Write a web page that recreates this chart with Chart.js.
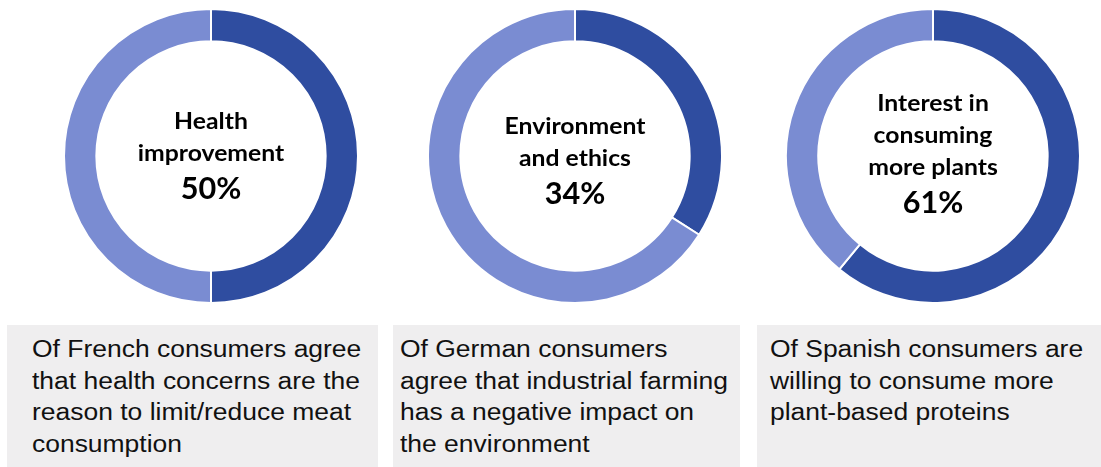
<!DOCTYPE html>
<html lang="en">
<head>
    <meta charset="UTF-8">
    <title>Consumer motivations</title>
    <script src="https://cdn.jsdelivr.net/npm/chart.js"></script>
    <style>
        body {
            margin: 0;
            width: 1101px;
            height: 467px;
            background: #ffffff;
            position: relative;
            overflow: hidden;
            font-family: "Liberation Sans", Arial, sans-serif;
        }
        .donut {
            position: absolute;
            top: 8px;
            width: 296px;
            height: 296px;
        }
        .centre {
            position: absolute;
            width: 296px;
            text-align: center;
            font-family: Lato, "Open Sans", sans-serif;
            font-weight: 700;
            color: #000;
        }
        .centre .lbl {
            font-size: 22.5px;
            line-height: 32px;
            transform: scaleX(1.1);
        }
        .centre .pct {
            font-size: 30px;
            line-height: 36px;
            transform: scaleX(1.02);
        }
        .box {
            position: absolute;
            top: 325px;
            height: 142px;
            background: #efeeef;
        }
        .box p {
            margin: 0;
            position: absolute;
            top: 9px;
            font-size: 23px;
            line-height: 31.7px;
            color: #111;
            transform: scaleX(1.15);
            transform-origin: left top;
            white-space: nowrap;
        }
    </style>
</head>
<body>
    <div id="root"></div>

    <script>
        // values
        const labels = [['Health', 'improvement'], ['Environment', 'and ethics'], ['Interest in', 'consuming', 'more plants']];
        const shares = [50, 34, 61];
        const captions = [
            ['Of French consumers agree', 'that health concerns are the', 'reason to limit/reduce meat', 'consumption'],
            ['Of German consumers', 'agree that industrial farming', 'has a negative impact on', 'the environment'],
            ['Of Spanish consumers are', 'willing to consume more', 'plant-based proteins']
        ];

        // layout
        const centreX = [211, 575, 933];
        const labelTop = [105, 110, 87];
        const boxes = [[7, 371, 25], [393, 347, 7], [757, 344, 13]];

        const dark = '#2f4da0';
        const light = '#7a8cd2';
        const root = document.getElementById('root');

        shares.forEach((v, i) => {
            const wrap = document.createElement('div');
            wrap.className = 'donut';
            wrap.style.left = (centreX[i] - 148) + 'px';
            const cv = document.createElement('canvas');
            cv.width = 296;
            cv.height = 296;
            wrap.appendChild(cv);
            root.appendChild(wrap);

            new Chart(cv, {
                type: 'doughnut',
                data: {
                    labels: ['Yes', 'Other'],
                    datasets: [{
                        data: [v, 100 - v],
                        backgroundColor: [dark, light],
                        borderColor: '#ffffff',
                        borderWidth: 2
                    }]
                },
                options: {
                    responsive: false,
                    animation: false,
                    cutout: '78%',
                    plugins: { legend: { display: false }, tooltip: { enabled: false } }
                }
            });

            const c = document.createElement('div');
            c.className = 'centre';
            c.style.left = (centreX[i] - 148) + 'px';
            c.style.top = labelTop[i] + 'px';
            labels[i].forEach(t => {
                const d = document.createElement('div');
                d.className = 'lbl';
                d.textContent = t;
                c.appendChild(d);
            });
            const p = document.createElement('div');
            p.className = 'pct';
            p.textContent = v + '%';
            c.appendChild(p);
            root.appendChild(c);

            const b = document.createElement('div');
            b.className = 'box';
            b.style.left = boxes[i][0] + 'px';
            b.style.width = boxes[i][1] + 'px';
            const txt = document.createElement('p');
            txt.style.left = boxes[i][2] + 'px';
            txt.innerHTML = captions[i].join('<br>');
            b.appendChild(txt);
            root.appendChild(b);
        });
    </script>
</body>
</html>
